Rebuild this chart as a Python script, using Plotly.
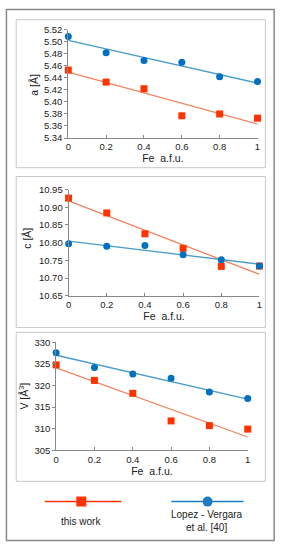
import numpy as np
import plotly.graph_objects as go

fe = [0, 0.2, 0.4, 0.6, 0.8, 1.0]

a_this = [5.453, 5.433, 5.422, 5.377, 5.380, 5.373]
a_lopez = [5.509, 5.482, 5.469, 5.466, 5.442, 5.434]

c_this = [10.926, 10.884, 10.825, 10.784, 10.733, 10.734]
c_lopez = [10.797, 10.790, 10.792, 10.766, 10.752, 10.734]

v_this = [324.8, 321.2, 318.2, 311.8, 310.7, 309.9]
v_lopez = [327.6, 324.2, 322.7, 321.7, 318.5, 317.0]

x_ticks = [0, 0.2, 0.4, 0.6, 0.8, 1]
x_ticklabels = ["0", "0.2", "0.4", "0.6", "0.8", "1"]

RED = "#FF3300"
RED_LINE = "#F2825E"
BLUE = "#0070C0"
BLUE_LINE = "#4A9CCB"
FONT = "Liberation Sans, Arial, sans-serif"

W, H = 284, 550


def px(x):
    return x / W


def py(y):
    return 1 - y / H


fig = go.Figure()

panels = [
    dict(this=a_this, lopez=a_lopez, x0=66.7, x1=260, ytop=24.3, ybot=134.7,
         yr=[5.34, 5.52], dt=0.02, fmt=".2f", title="a [Å]", tx=32, tyc=80),
    dict(this=c_this, lopez=c_lopez, x0=67, x1=262, ytop=187.3, ybot=295.7,
         yr=[10.65, 10.95], dt=0.05, fmt=".2f", title="c [Å]", tx=25, tyc=237),
    dict(this=v_this, lopez=v_lopez, x0=54.3, x1=250, ytop=343.3, ybot=453.3,
         yr=[305, 330], dt=5, fmt=".0f", title="V [Å<sup>3</sup>]", tx=20, tyc=398),
]

layout_axes = {}
for i, p in enumerate(panels, start=1):
    xa = "x" if i == 1 else f"x{i}"
    ya = "y" if i == 1 else f"y{i}"
    xfit = [0.0, 1.0]
    for vals, lcol in [(p["this"], RED_LINE), (p["lopez"], BLUE_LINE)]:
        k, b = np.polyfit(fe, vals, 1)
        fig.add_trace(go.Scatter(x=xfit, y=[float(b), float(k + b)], mode="lines",
                                 line=dict(color=lcol, width=1.3),
                                 xaxis=xa, yaxis=ya, showlegend=False,
                                 hoverinfo="skip"))
    for vals, mcol, sym in [(p["this"], RED, "square"), (p["lopez"], BLUE, "circle")]:
        fig.add_trace(go.Scatter(x=fe, y=vals, mode="markers",
                                 marker=dict(color=mcol, symbol=sym, size=7),
                                 xaxis=xa, yaxis=ya, showlegend=False,
                                 cliponaxis=False))
    xkey = "xaxis" if i == 1 else f"xaxis{i}"
    ykey = "yaxis" if i == 1 else f"yaxis{i}"
    layout_axes[xkey] = dict(
        domain=[px(p["x0"]), px(p["x1"])], range=[0, 1], anchor=ya,
        tickvals=x_ticks, ticktext=x_ticklabels, ticks="inside", ticklen=3,
        tickcolor="#888", showline=True, linecolor="#888", linewidth=1,
        showgrid=False, zeroline=False,
        tickfont=dict(family=FONT, size=9.5, color="#222"),
        title=dict(text="Fe  a.f.u.", font=dict(family=FONT, size=10.5, color="#222"),
                   standoff=2),
    )
    layout_axes[ykey] = dict(
        domain=[py(p["ybot"]), py(p["ytop"])], range=p["yr"], anchor=xa,
        dtick=p["dt"], tick0=p["yr"][0], tickformat=p["fmt"],
        ticks="outside", ticklen=3, tickcolor="#888",
        showline=True, linecolor="#888", linewidth=1,
        showgrid=False, zeroline=False,
        tickfont=dict(family=FONT, size=9.5, color="#222"),
    )

# hidden axis for the hand-made legend strip at the bottom
LY0, LY1 = 490, 545
layout_axes["xaxis4"] = dict(domain=[0, 1], range=[0, W], visible=False, anchor="y4")
layout_axes["yaxis4"] = dict(domain=[py(LY1), py(LY0)], range=[LY1, LY0], visible=False,
                             anchor="x4")

legend_items = [
    dict(color=RED, sym="square", lx=[42.7, 121], cx=80, size=10),
    dict(color="#1F7CC1", sym="circle", lx=[172, 245.7], cx=209, size=10),
]
for it in legend_items:
    fig.add_trace(go.Scatter(x=it["lx"], y=[505.7, 505.7], mode="lines",
                             line=dict(color=it["color"], width=1.5),
                             xaxis="x4", yaxis="y4", showlegend=False, hoverinfo="skip"))
    fig.add_trace(go.Scatter(x=[it["cx"]], y=[505.7], mode="markers",
                             marker=dict(color=it["color"], symbol=it["sym"], size=it["size"]),
                             xaxis="x4", yaxis="y4", showlegend=False, hoverinfo="skip"))

annotations = []
for p in panels:
    annotations.append(dict(x=px(p["tx"]), y=py(p["tyc"]), xref="paper", yref="paper",
                            xanchor="center", yanchor="middle",
                            text=p["title"], textangle=-90, showarrow=False,
                            font=dict(family=FONT, size=10.5, color="#222")))
annotations.append(dict(x=px(80), y=py(526), xref="paper", yref="paper", text="this work",
                        xanchor="center", yanchor="middle",
                        showarrow=False, font=dict(family=FONT, size=10, color="#222")))
annotations.append(dict(x=px(208), y=py(525), xref="paper", yref="paper",
                        xanchor="center", yanchor="middle",
                        text="Lopez - Vergara<br>et al. [40]", showarrow=False,
                        font=dict(family=FONT, size=10, color="#222")))

shapes = [
    dict(type="rect", xref="paper", yref="paper", x0=px(3.5), x1=px(277), y0=py(545.5), y1=py(3.5),
         line=dict(color="#8a8a8a", width=1.5), layer="below"),
]
for (t, b) in [(14, 165), (174, 328), (333, 485)]:
    shapes.append(dict(type="rect", xref="paper", yref="paper", x0=px(13.5), x1=px(268),
                       y0=py(b), y1=py(t), line=dict(color="#c8c8c8", width=1), layer="below"))

fig.update_layout(
    width=W, height=H, margin=dict(l=0, r=0, t=0, b=0),
    paper_bgcolor="white", plot_bgcolor="rgba(0,0,0,0)",
    annotations=annotations, shapes=shapes, **layout_axes,
)

fig.write_html(
    "out.html",
    config={"displayModeBar": False, "staticPlot": True},
    post_script=("document.documentElement.style.margin='0';"
                 "document.documentElement.style.overflow='hidden';"
                 "document.body.style.margin='0';"
                 "document.body.style.overflow='hidden';"
                 "var d=document.getElementById('{plot_id}');"
                 "d.style.position='fixed';d.style.top='0px';d.style.left='0px';"),
)
